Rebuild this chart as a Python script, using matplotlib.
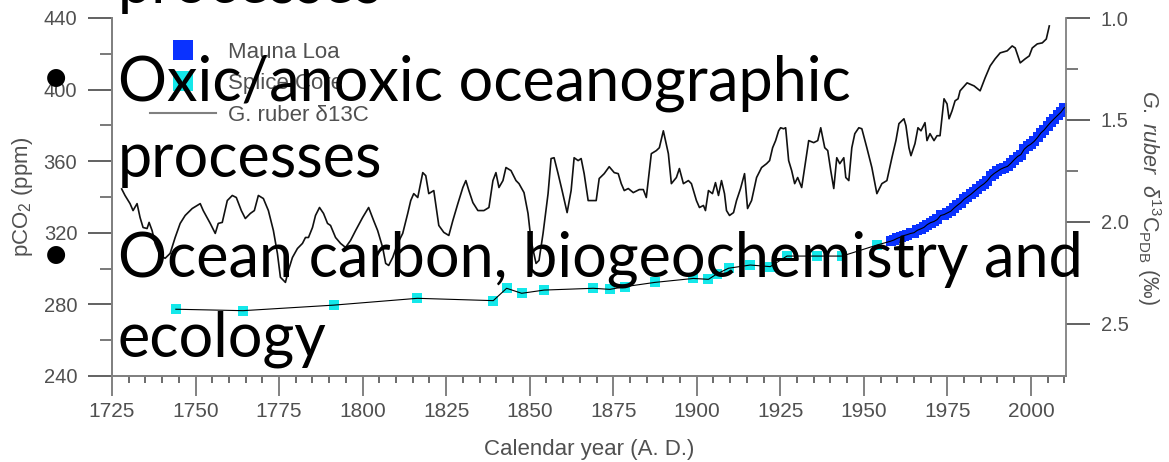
import matplotlib
matplotlib.use("Agg")
import matplotlib.pyplot as plt
from matplotlib.lines import Line2D
from matplotlib.ticker import MultipleLocator, FixedLocator

plt.rcParams['font.family'] = ['Liberation Sans', 'DejaVu Sans']
plt.rcParams['mathtext.fontset'] = 'custom'
plt.rcParams['mathtext.rm'] = 'Liberation Sans'
plt.rcParams['mathtext.it'] = 'Liberation Sans:italic'

# G. ruber d13C record (right axis, per mil)
ruber_year = [
    1727.9, 1728.9, 1730.4, 1731.3, 1732.5, 1733.4, 1734.3, 1735.5, 1736.1, 1737.0,
    1737.9, 1739.4, 1740.9, 1742.4, 1743.9, 1745.4, 1746.9, 1749.0, 1751.4, 1752.3,
    1754.4, 1755.9, 1756.8, 1758.0, 1759.5, 1761.0, 1762.2, 1763.7, 1764.9, 1766.4,
    1767.6, 1768.8, 1770.3, 1771.8, 1773.3, 1774.5, 1775.4, 1776.9, 1777.8, 1779.0,
    1780.5, 1782.0, 1782.9, 1783.8, 1785.0, 1785.9, 1787.1, 1788.3, 1789.5, 1790.4,
    1791.9, 1793.4, 1794.9, 1796.4, 1797.9, 1800.0, 1801.8, 1803.3, 1804.5, 1806.0,
    1806.9, 1807.8, 1809.0, 1810.5, 1812.0, 1813.5, 1814.4, 1815.3, 1816.5, 1818.0,
    1818.9, 1819.8, 1821.3, 1822.8, 1824.3, 1825.8, 1827.0, 1828.5, 1830.0, 1830.9,
    1831.8, 1833.0, 1834.5, 1836.3, 1837.8, 1839.0, 1839.9, 1840.8, 1842.0, 1842.9,
    1844.4, 1845.9, 1846.8, 1848.3, 1849.5, 1850.4, 1851.9, 1852.8, 1854.0, 1855.5,
    1856.4, 1857.3, 1858.5, 1859.7, 1861.2, 1862.4, 1863.3, 1864.5, 1865.4, 1866.3,
    1867.5, 1869.9, 1870.8, 1872.3, 1873.8, 1875.3, 1876.5, 1877.4, 1878.3, 1879.5,
    1881.0, 1882.8, 1884.0, 1884.9, 1886.4, 1887.9, 1888.8, 1890.0, 1891.5, 1892.4,
    1893.9, 1894.8, 1896.0, 1897.5, 1898.4, 1899.9, 1900.8, 1902.0, 1902.6, 1903.5,
    1904.7, 1905.6, 1906.5, 1907.4, 1908.3, 1908.9, 1909.8, 1911.0, 1911.9, 1913.1,
    1914.3, 1915.2, 1916.4, 1917.9, 1919.4, 1920.9, 1921.8, 1922.7, 1923.6, 1924.5,
    1925.1, 1926.0, 1926.6, 1927.5, 1928.4, 1929.3, 1930.2, 1931.4, 1932.3, 1933.5,
    1935.0, 1936.2, 1937.1, 1938.3, 1939.2, 1940.1, 1941.0, 1941.9, 1942.8, 1944.0,
    1944.6, 1945.5, 1946.4, 1947.3, 1948.5, 1949.4, 1950.9, 1952.4, 1953.9, 1955.4,
    1956.9, 1958.4, 1959.6, 1960.5, 1962.0, 1962.6, 1963.5, 1964.1, 1965.3, 1966.2,
    1967.1, 1968.3, 1968.9, 1969.8, 1971.0, 1971.9, 1972.8, 1974.0, 1974.9, 1975.5,
    1976.4, 1977.3, 1978.2, 1978.8, 1980.9, 1983.0, 1984.8, 1986.3, 1987.8, 1989.3,
    1990.8, 1992.9, 1994.4, 1995.3, 1996.8, 1998.3, 1999.5, 2000.4, 2001.9, 2003.4,
    2004.6, 2005.5,
]
ruber_d13c = [
    1.838, 1.870, 1.910, 1.944, 1.910, 1.978, 2.027, 2.032, 2.002, 2.042,
    2.105, 2.164, 2.178, 2.154, 2.076, 2.007, 1.968, 1.934, 1.910, 1.944,
    2.007, 2.056, 2.007, 2.002, 1.895, 1.870, 1.880, 1.944, 1.983, 1.958,
    1.944, 1.870, 1.885, 1.944, 2.042, 2.154, 2.271, 2.296, 2.237, 2.174,
    2.130, 2.105, 2.076, 2.076, 2.027, 1.968, 1.929, 1.958, 2.007, 2.017,
    2.076, 2.105, 2.125, 2.090, 2.042, 1.978, 1.929, 1.993, 2.042, 2.125,
    2.203, 2.213, 2.174, 2.105, 2.056, 1.958, 1.895, 1.861, 1.880, 1.758,
    1.773, 1.861, 1.846, 2.017, 2.051, 2.066, 1.993, 1.910, 1.831, 1.797,
    1.846, 1.905, 1.944, 1.944, 1.929, 1.797, 1.758, 1.831, 1.797, 1.733,
    1.748, 1.797, 1.812, 1.856, 1.958, 2.090, 2.203, 2.188, 2.056, 1.861,
    1.689, 1.685, 1.763, 1.846, 1.954, 1.846, 1.685, 1.699, 1.689, 1.763,
    1.895, 1.895, 1.787, 1.763, 1.729, 1.758, 1.763, 1.812, 1.846, 1.836,
    1.856, 1.841, 1.841, 1.880, 1.665, 1.650, 1.636, 1.553, 1.665, 1.812,
    1.782, 1.738, 1.812, 1.797, 1.812, 1.895, 1.929, 1.919, 1.944, 1.846,
    1.861, 1.807, 1.870, 1.797, 1.861, 1.944, 1.968, 1.954, 1.895, 1.836,
    1.763, 1.934, 1.895, 1.782, 1.733, 1.714, 1.699, 1.636, 1.601, 1.553,
    1.538, 1.543, 1.538, 1.699, 1.748, 1.812, 1.782, 1.831, 1.733, 1.601,
    1.611, 1.601, 1.538, 1.636, 1.650, 1.748, 1.836, 1.685, 1.714, 1.685,
    1.782, 1.797, 1.636, 1.567, 1.538, 1.543, 1.636, 1.733, 1.861, 1.812,
    1.797, 1.685, 1.601, 1.518, 1.494, 1.528, 1.636, 1.675, 1.616, 1.538,
    1.553, 1.513, 1.601, 1.567, 1.601, 1.577, 1.577, 1.396, 1.421, 1.494,
    1.455, 1.406, 1.396, 1.357, 1.318, 1.333, 1.357, 1.293, 1.235, 1.200,
    1.171, 1.161, 1.137, 1.147, 1.220, 1.200, 1.186, 1.147, 1.127, 1.122,
    1.103, 1.039,
]

# Splice core pCO2 (ppm)
splice_year = [1744.1, 1764.2, 1791.4, 1816.4, 1839.1, 1843.1, 1847.6, 1854.3,
               1869.0, 1874.0, 1878.5, 1887.5, 1899.0, 1903.5, 1906.0, 1909.5,
               1916.0, 1922.0, 1927.0, 1936.0, 1943.5, 1954.0]
splice_pco2 = [277.3, 276.5, 279.6, 283.4, 282.1, 289.0, 286.2, 288.0,
               289.0, 288.4, 289.9, 292.3, 294.5, 294.0, 297.0, 300.2,
               302.0, 301.1, 307.0, 307.0, 307.0, 313.2]

# Mauna Loa annual means (ppm)
mlo_year = list(range(1958, 2011))
mlo_pco2 = [315.3, 315.97, 316.91, 317.64, 318.45, 318.99, 319.62, 320.04, 321.38,
            322.16, 323.04, 324.62, 325.68, 326.32, 327.45, 329.68, 330.18, 331.11,
            332.04, 333.83, 335.40, 336.84, 338.75, 340.11, 341.45, 343.05, 344.65,
            346.12, 347.42, 349.19, 351.57, 353.12, 354.39, 355.61, 356.45, 357.10,
            358.83, 360.82, 362.61, 363.73, 366.70, 368.38, 369.55, 371.14, 373.28,
            375.80, 377.52, 379.80, 381.90, 383.79, 385.60, 387.43, 389.90]

bullets = [
    ("processes", False),
    ("Oxic/anoxic oceanographic", True),
    ("processes", False),
    ("Ocean carbon, biogeochemistry and", True),
    ("ecology", False),
]

W, H = 1169, 462
fig = plt.figure(figsize=(W / 100, H / 100), dpi=100)
ax = fig.add_axes([112 / W, 1 - 376 / H, (1066 - 112) / W, (376 - 18) / H])
ax2 = ax.twinx()

grey = '#808080'
txt = '#505050'

ax.plot(splice_year + mlo_year, splice_pco2 + mlo_pco2, color='black', lw=0.8, zorder=3)
ax.plot(mlo_year, mlo_pco2, 's', color='#0a32ff', ms=7.5, mew=0, zorder=2)
ax.plot(splice_year, splice_pco2, 's', color='#14e8ea', ms=7, mew=0, zorder=2)
ax2.plot(ruber_year, ruber_d13c, color='#111111', lw=1.2)

ax.set_xlim(1725, 2010.5)
ax.set_ylim(240, 440)
ax2.set_ylim(2.755, 1.0)

ax.xaxis.set_major_locator(MultipleLocator(25))
ax.xaxis.set_minor_locator(MultipleLocator(5))
ax.yaxis.set_major_locator(MultipleLocator(40))
ax.yaxis.set_minor_locator(MultipleLocator(20))
ax2.yaxis.set_major_locator(FixedLocator([1.0, 1.5, 2.0, 2.5]))
ax2.yaxis.set_minor_locator(FixedLocator([1.25, 1.75, 2.25]))
ax2.set_yticklabels(['1.0', '1.5', '2.0', '2.5'])

for a in (ax, ax2):
    a.spines['top'].set_visible(False)
    for s in a.spines.values():
        s.set_color(grey)
        s.set_linewidth(1.3)
ax.spines['right'].set_visible(False)

ax.tick_params(axis='x', which='major', length=14.5, width=1.3, color='#777777',
               pad=4, labelsize=15, labelcolor=txt)
ax.tick_params(axis='x', which='minor', length=5, width=1.1, color='#444444')
ax.tick_params(axis='y', which='major', length=17, width=1.3, color='#555555',
               pad=8, labelsize=14.5, labelcolor=txt)
ax.tick_params(axis='y', which='minor', length=8.5, width=1.1, color='#555555')
ax2.tick_params(axis='y', which='major', length=17, width=1.3, color='#555555',
                pad=8, labelsize=14.5, labelcolor=txt)
ax2.tick_params(axis='y', which='minor', length=8.5, width=1.1, color='#555555')

ax.set_xlabel('Calendar year (A. D.)', fontsize=16, color=txt, labelpad=13)
ax.set_ylabel('pCO$_2$ (ppm)', fontsize=16, color=txt, labelpad=6)
ax2.set_ylabel(r'$\mathit{G.\ ruber}$  $\delta^{13}$C$_{\mathrm{PDB}}$ (‰)',
               fontsize=15.5, color=txt, rotation=270, labelpad=25)

handles = [
    Line2D([], [], marker='s', ls='none', color='#0a32ff', ms=15, mew=0),
    Line2D([], [], marker='s', ls='none', color='#14e8ea', ms=15, mew=0),
    Line2D([], [], color=grey, lw=1.5),
]
leg = ax.legend(handles, ['Mauna Loa', 'Splice Core', 'G. ruber δ13C'],
                loc='upper left', bbox_to_anchor=(0.04, 0.934), frameon=False,
                fontsize=16, labelcolor=txt, handlelength=2.95,
                handletextpad=0.55, labelspacing=0.47, borderpad=0, borderaxespad=0)

# slide text drawn over the chart
base_y = [3, 100, 177, 277, 357]
for (line, has_bullet), yb in zip(bullets, base_y):
    fig.text(118 / W, 1 - yb / H, line, family=['Lato', 'DejaVu Sans'],
             fontsize=44, color='black', va='baseline', ha='left', zorder=10)
    if has_bullet:
        fig.text(56 / W, 1 - (yb - 22) / H, '•', family=['Lato', 'DejaVu Sans'],
                 fontsize=35, color='black', va='center', ha='center', zorder=10)

fig.savefig('out.png', dpi=100)
